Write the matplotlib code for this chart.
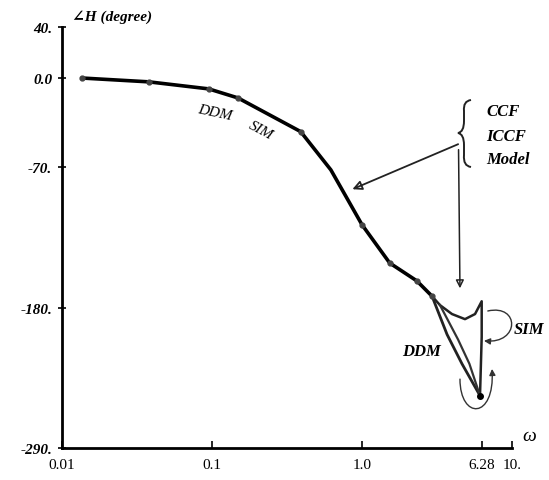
import matplotlib
matplotlib.use("Agg")
import matplotlib.pyplot as plt
from matplotlib.patches import FancyArrowPatch, PathPatch
from matplotlib.path import Path
from matplotlib.transforms import IdentityTransform

# frecuencias y fase comunes a los tres modelos
w_main = [0.0136, 0.038, 0.095, 0.149, 0.39, 0.62, 1.0, 1.53, 2.32, 2.93]
ph_main = [0.0, -3.0, -8.5, -15.6, -42.0, -72.0, -115.0, -145.0, -159.0, -171.0]

# ramas cerca de w = 6.28
w_top = [2.93, 3.31, 3.98, 4.86, 5.67, 6.28, 6.28, 6.12]
ph_top = [-171.0, -178.0, -185.0, -189.0, -185.0, -175.0, -203.0, -249.0]
w_outer = [2.93, 3.69, 4.64, 6.12]
ph_outer = [-171.0, -201.0, -224.0, -249.0]
w_inner = [3.31, 4.37, 5.2, 6.12]
ph_inner = [-178.0, -205.0, -224.0, -249.0]

# puntos marcados sobre la curva
w_pts = [0.0136, 0.038, 0.095, 0.149, 0.39, 1.0, 1.53, 2.32, 2.93]
ph_pts = [0.0, -3.0, -8.5, -15.6, -42.0, -115.0, -145.0, -159.0, -171.0]

xticks = [0.01, 0.1, 1.0, 6.28, 10.0]
xlabels = ["0.01", "0.1", "1.0", "6.28", "10."]
yticks = [40, 0, -70, -180, -290]
ylabels = ["40.", "0.0", "-70.", "-180.", "-290."]

serif = ["Liberation Serif", "DejaVu Serif"]

fig = plt.figure(figsize=(5.49, 4.81), dpi=100)
ax = fig.add_axes([62 / 549, 32 / 481, 450 / 549, 421 / 481])

ax.plot(w_main, ph_main, color="black", lw=2.6, solid_capstyle="round")
ax.plot(w_top, ph_top, color="#222222", lw=1.8)
ax.plot(w_outer, ph_outer, color="#222222", lw=2.0)
ax.plot(w_inner, ph_inner, color="#333333", lw=1.6)
ax.plot(w_pts, ph_pts, "o", color="#444444", ms=3.5)
ax.plot([6.12], [-249.0], "o", color="black", ms=4)

ax.set_xscale("log")
ax.set_xlim(0.01, 10)
ax.set_ylim(-290, 40)
ax.set_xticks(xticks)
ax.set_xticklabels(xlabels, family=serif, fontsize=11)
ax.minorticks_off()
ax.set_yticks(yticks)
ax.set_yticklabels(ylabels, family=serif, fontsize=11, style="italic", fontweight="bold")
ax.tick_params(axis="x", direction="in", length=5, width=1.2, pad=7)
ax.tick_params(axis="y", direction="inout", length=6, width=1.2, pad=4)
for s in ["top", "right"]:
    ax.spines[s].set_visible(False)
for s in ["left", "bottom"]:
    ax.spines[s].set_linewidth(2.0)

# titulos de los ejes
fig.text(72 / 549, 1 - 17 / 481, "\u2220H (degree)", family=serif, style="italic",
         fontweight="bold", fontsize=11, va="center", ha="left")
fig.text(522 / 549, 1 - 437 / 481, "\u03c9", family=serif, style="italic",
         fontsize=14, va="center", ha="left")

# etiquetas DDM / SIM sobre la curva
ax.text(0.105, -27, "DDM", family=serif, style="italic", fontsize=11,
        rotation=-12, ha="center", va="center")
ax.text(0.21, -41, "SIM", family=serif, style="italic", fontsize=11,
        rotation=-28, ha="center", va="center")

# leyenda con llave
fig.text(486 / 549, 1 - 112 / 481, "CCF", family=serif, style="italic", fontsize=12,
         fontweight="bold", va="center")
fig.text(486 / 549, 1 - 137 / 481, "ICCF", family=serif, style="italic", fontsize=12,
         fontweight="bold", va="center")
fig.text(486 / 549, 1 - 160 / 481, "Model", family=serif, style="italic", fontsize=12,
         fontweight="bold", va="center")

# llave dibujada en pixeles de la figura (origen abajo a la izquierda)
H = 481
C3 = Path.CURVE3
llave = Path(
    [(471, H - 101),
     (463, H - 102), (464, H - 112),
     (464, H - 122),
     (464, H - 133), (458, H - 134),
     (464, H - 135), (464, H - 146),
     (464, H - 156),
     (463, H - 167), (471, H - 168)],
    [Path.MOVETO, C3, C3, Path.LINETO, C3, C3, C3, C3, Path.LINETO, C3, C3])
fig.add_artist(PathPatch(llave, transform=IdentityTransform(), fill=False,
                         lw=1.4, edgecolor="#222222"))

# flechas desde la leyenda
ax.annotate("", xy=(0.83, -88), xytext=(4.55, -51),
            arrowprops=dict(arrowstyle="-|>", color="#222222", lw=1.3,
                            mutation_scale=14, fill=False))
ax.annotate("", xy=(4.5, -167), xytext=(4.4, -54),
            arrowprops=dict(arrowstyle="-|>", color="#222222", lw=1.1,
                            mutation_scale=12, fill=False))

# etiquetas y flechas curvas de la zona de resonancia
ax.text(10.2, -197, "SIM", family=serif, style="italic", fontsize=12,
        fontweight="bold", va="center", ha="left", clip_on=False)
ax.text(1.85, -214, "DDM", family=serif, style="italic", fontsize=12,
        fontweight="bold", va="center", ha="left")

curva = Path.CURVE4
arco_sim = Path([(6.9, -182.6), (11.3, -177.0), (11.3, -208.5), (6.5, -206.0)],
                [Path.MOVETO, curva, curva, curva])
arco_ddm = Path([(4.5, -236.0), (4.5, -268.0), (7.7, -268.0), (7.36, -228.0)],
                [Path.MOVETO, curva, curva, curva])
for arco in (arco_sim, arco_ddm):
    ax.add_patch(FancyArrowPatch(path=arco, arrowstyle="-|>", mutation_scale=9,
                                 lw=1.0, color="#333333", clip_on=False))

fig.savefig("out.png", dpi=100)
